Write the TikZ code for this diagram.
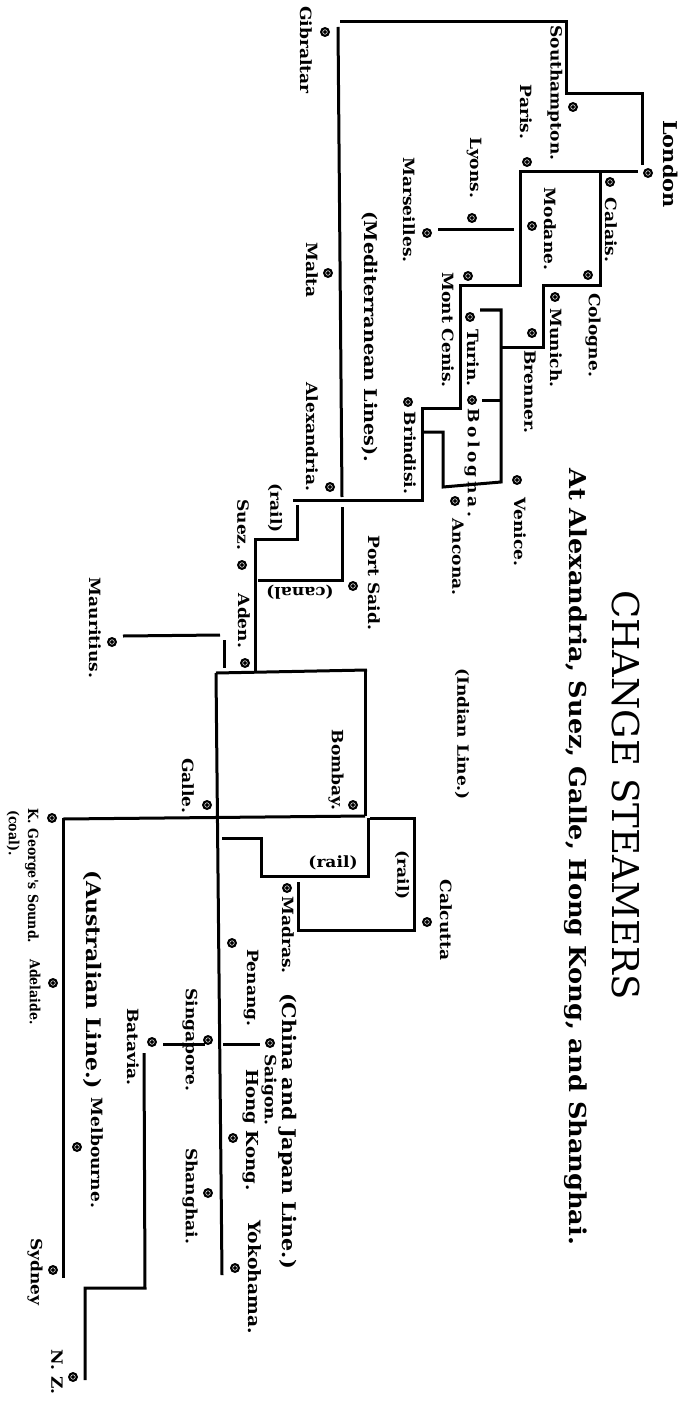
\documentclass[tikz,border=0pt]{standalone}
\usepackage{fontspec}
\setmainfont{DejaVu Serif}
\newfontfamily\lblfont{DejaVu Serif}[FakeStretch=1.1]
\newfontfamily\condfont{DejaVu Serif}[FakeStretch=0.9]
\newfontfamily\headfont{DejaVu Serif}
\newfontfamily\subfont{DejaVu Serif}[FakeStretch=1.1]
\tikzset{
  route/.style={line width=3pt},
  stn/.style={circle, fill=black, inner sep=0pt, minimum size=10pt,
    path picture={\draw[white, line width=0.5pt] (path picture bounding box.center) circle (2.3pt);}},
  lbl/.style={font=\lblfont\bfseries\fontsize{15.5}{15.5}\selectfont, rotate=-90, inner sep=0pt},
  sml/.style={font=\condfont\bfseries\fontsize{14}{14}\selectfont, rotate=-90, inner sep=0pt},
}

\begin{document}
\begin{tikzpicture}[x=1pt, y=-1pt]
  \useasboundingbox (0,0) rectangle (688,1404);

  \node[font=\headfont\fontsize{37}{37}\selectfont, rotate=-90] (title) at (626,795) {CHANGE STEAMERS};
  \node[font=\subfont\bfseries\fontsize{23.3}{23.3}\selectfont, rotate=-90] (subtitle) at (576,857)
    {At Alexandria, Suez, Galle, Hong Kong, and Shanghai.};

  % Europe and the Mediterranean
  \draw[route] (340,22) -| (566,94) -| (642,165);
  \draw[route] (338,27) -- (342,497);
  \draw[route] (342,507) -- (342,580) -- (258,580);
  \draw[route] (293,500) -- (422,500) |- (460,408) |- (520,286) |- (638,172);
  \draw[route] (600,172) -- (600,286) -- (543,286) -- (543,347) -- (501,347);
  \draw[route] (480,310) -- (501,310) -- (501,482) -- (443,487) -- (443,432) -- (422,432);
  \draw[route] (482,400) -- (501,400);
  \draw[route] (438,230) -- (514,230);
  \draw[route] (297,505) -- (297,539) -- (255,539) -- (255,673);

  % India, China and Australia
  \draw[route] (216,673) -- (367,670);
  \draw[route] (365,670) -- (365,816);
  \draw[route] (63,819) -- (365,816);
  \draw[route] (370,818) -- (414,818) -- (414,930) -- (298,930) -- (298,882);
  \draw[route] (368,818) -- (368,876) -- (261,876) -- (261,838) -- (222,838);
  \draw[route] (216,673) -- (222,1275);
  \draw[route] (123,636) -- (220,635);
  \draw[route] (224,640) -- (224,668);
  \draw[route] (63,818) -- (63,1278);
  \draw[route] (223,1044) -- (260,1044);
  \draw[route] (163,1044) -- (205,1044);
  \draw[route] (144,1053) -- (145,1288) -- (85,1288) -- (85,1380);

  \foreach \n/\x/\y in {london/648/173, southampton/573/107, paris/527/162, gibraltar/325/32,
      calais/610/182, lyons/472/218, marseilles/427/233, modane/532/226, malta/328/273,
      cologne/588/275, montcenis/468/276, munich/555/297, turin/470/317, brenner/532/333,
      bologna/472/400, brindisi/408/402, venice/517/480, ancona/455/501, alexandria/330/487,
      suez/242/565, portsaid/353/586, mauritius/112/642, aden/245/663, bombay/353/805,
      galle/207/805, kgeorge/52/818, madras/287/888, calcutta/427/922, penang/232/943,
      adelaide/53/983, singapore/208/1040, batavia/152/1042, saigon/270/1043,
      hongkong/233/1138, melbourne/77/1147, shanghai/208/1193, yokohama/235/1268,
      sydney/53/1270, nz/73/1377}
    \node[stn] (\n) at (\x,\y) {};

  \foreach \n/\x/\y/\t in {southampton/555/93/Southampton.,
      paris/526/112/Paris., gibraltar/306/50/Gibraltar, lyons/474/168/Lyons.,
      marseilles/409/210/Marseilles., calais/611/230/Calais., modane/550/229/Modane.,
      cologne/593/335/Cologne., munich/556/348/Munich., brenner/530/392/Brenner.,
      montcenis/448/330/Mont Cenis., turin/473/358/Turin., brindisi/410/453/Brindisi.,
      venice/520/532/Venice., ancona/458/557/Ancona., malta/312/270/Malta,
      alexandria/312/437/Alexandria.,
      rail1/275/508/(rail), suez/243/525/Suez., portsaid/374/583/Port Said.,
      aden/244/621/Aden., mauritius/95/628/Mauritius., indian/462/734/(Indian Line.),
      bombay/336/770/Bombay., galle/188/786/Galle., rail3/402/875/(rail),
      calcutta/446/920/Calcutta, madras/288/935/Madras., penang/251/988/Penang.,
      saigon/269/1090/Saigon., singapore/190/1040/Singapore., batavia/133/1047/Batavia.,
      shanghai/190/1196/Shanghai., melbourne/97/1153/Melbourne.,
      sydney/35/1272/Sydney, nz/57/1372/N. Z.}
    \node[lbl] (t-\n) at (\x,\y) {\t};

  \node[lbl, font=\lblfont\bfseries\fontsize{19}{19}\selectfont] (t-london) at (671,164) {London};
  \node[lbl, font=\lblfont\bfseries\fontsize{17.5}{17.5}\selectfont] (t-medit) at (370,337) {(Mediterranean Lines).};
  \node[lbl, font=\lblfont\bfseries\fontsize{18.8}{18.8}\selectfont] (t-china) at (288,1131) {(China and Japan Line.)};
  \node[lbl, font=\lblfont\bfseries\fontsize{20}{20}\selectfont] (t-austral) at (93,980) {(Australian Line.)};
  \node[lbl, font=\lblfont\bfseries\fontsize{16.5}{16.5}\selectfont] (t-hongkong) at (251,1130) {Hong Kong.};
  \node[lbl, font=\lblfont\bfseries\fontsize{17}{17}\selectfont] (t-yokohama) at (255,1277) {Yokohama.};
  \node[lbl] (t-bologna) at (472,463) {\addfontfeature{LetterSpace=22}Bologna.};
  \node[lbl, rotate=-90] (t-canal) at (300,592) {(canal)};
  \node[lbl, rotate=90] (t-rail2) at (333,863) {(rail)};
  \node[sml] (t-kgeorge) at (32,876) {K. George's Sound.};
  \node[sml] (t-coal) at (13,833) {(coal).};
  \node[sml] (t-adelaide) at (35,992) {Adelaide.};
\end{tikzpicture}
\end{document}
